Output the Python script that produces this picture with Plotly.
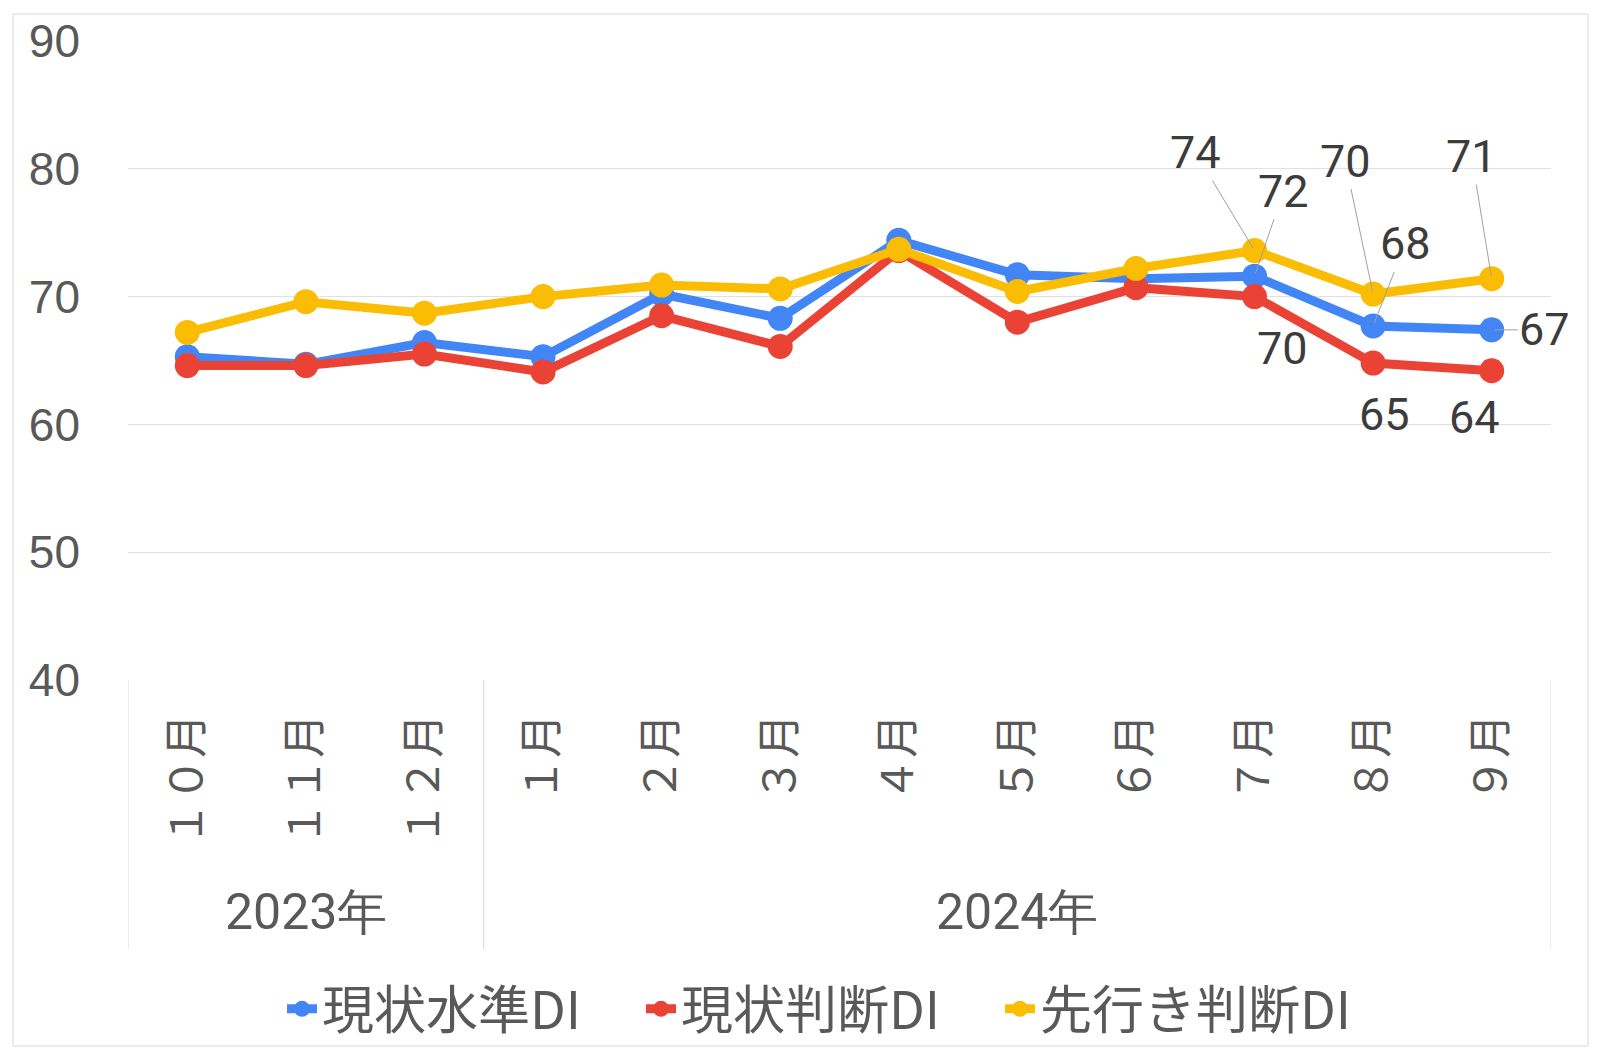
import plotly.graph_objects as go

months = ["１０月", "１１月", "１２月", "１月", "２月", "３月", "４月", "５月", "６月", "７月", "８月", "９月"]
years = ["2023年", "2024年"]
months_per_year = [3, 9]

genjo_suijun = [65.3, 64.7, 66.4, 65.3, 70.2, 68.3, 74.4, 71.7, 71.4, 71.6, 67.7, 67.4]
genjo_handan = [64.6, 64.6, 65.5, 64.1, 68.5, 66.1, 73.6, 68.0, 70.7, 70.0, 64.8, 64.2]
sakiyuki_handan = [67.2, 69.6, 68.7, 70.0, 70.9, 70.6, 73.7, 70.4, 72.2, 73.6, 70.2, 71.4]

series_names = ["現状水準DI", "現状判断DI", "先行き判断DI"]
colors = ["#4285F4", "#EA4335", "#FBBC04"]

W, H = 1600, 1052
OFF = 8  # page body margin; layout numbers below are page pixels
L, T = 128 - OFF, 41 - OFF
R = W - (1551 - OFF)
B = H - (680 - OFF)
pw, ph = W - L - R, H - T - B


def py(px):
    # page pixel y -> paper y
    return (H - B - (px - OFF)) / ph


def pxx(px):
    return (px - OFF - L) / pw


x = list(range(len(months)))
fig = go.Figure()
for name, vals, c in zip(series_names, [genjo_suijun, genjo_handan, sakiyuki_handan], colors):
    fig.add_trace(go.Scatter(
        x=x, y=vals, name=name, mode="lines+markers",
        line=dict(color=c, width=9), marker=dict(color=c, size=25),
    ))

# data labels for the last three months (offsets in px)
label_offsets = {
    0: [(29, -85), (32, -82), (53, 0)],
    1: [(28, 52), (11, 51), (-17, 47)],
    2: [(-59, -98), (-28, -133), (-20, -122)],
}
leader = {0: True, 1: False, 2: True}
all_vals = [genjo_suijun, genjo_handan, sakiyuki_handan]
for s, offs in label_offsets.items():
    for k, (dx, dy) in enumerate(offs):
        i = len(months) - 3 + k
        v = all_vals[s][i]
        common = dict(x=i, y=v, xref="x", yref="y", text=str(int(round(v))),
                      font=dict(family="Roboto", size=45, color="#3c3c3c"))
        if leader[s]:
            fig.add_annotation(**common, showarrow=True, ax=dx, ay=dy, arrowhead=0,
                               arrowwidth=1, arrowcolor="#a0a0a0", standoff=3)
        else:
            fig.add_annotation(**common, showarrow=False, xshift=dx, yshift=-dy)

# category group box below the plot
box_bottom = py(949)
start = 0
bounds = [-0.5]
for n in months_per_year:
    start += n
    bounds.append(start - 0.5)
for b in bounds:
    fig.add_shape(type="line", xref="x", yref="paper", x0=b, x1=b, y0=0, y1=box_bottom,
                  line=dict(color="#d9d9d9", width=1))
start = 0
for yr, n in zip(years, months_per_year):
    fig.add_annotation(x=start + (n - 1) / 2, xref="x", y=py(912), yref="paper", text=yr,
                       showarrow=False, yanchor="middle",
                       font=dict(family="Roboto", size=50, color="#595959"))
    start += n

# outer border
fig.add_shape(type="rect", xref="paper", yref="paper", x0=pxx(13), x1=pxx(1588),
              y0=py(1046), y1=py(14), line=dict(color="#d9d9d9", width=1))

fig.update_layout(
    width=W, height=H, margin=dict(l=L, r=R, t=T, b=B, autoexpand=False),
    plot_bgcolor="white", paper_bgcolor="white",
    showlegend=True,
    legend=dict(orientation="h", x=pxx(282), xanchor="left", y=py(1009), yanchor="middle",
                bgcolor="rgba(0,0,0,0)",
                font=dict(family="Noto Sans CJK JP", size=52, color="#595959"),
                itemwidth=30, entrywidth=314, entrywidthmode="pixels", tracegroupgap=0),
    xaxis=dict(range=[-0.5, 11.5], tickvals=x, ticktext=months, tickangle=-90,
               showgrid=False, zeroline=False, showline=False, ticks="",
               ticklabelstandoff=24, automargin=False,
               tickfont=dict(family="Noto Sans CJK JP", size=44, color="#595959")),
    yaxis=dict(range=[40, 90], dtick=10, showgrid=True, gridcolor="#e0e0e0", gridwidth=1,
               zeroline=False, showline=False, ticks="", ticklabelstandoff=47, automargin=False,
               tickfont=dict(family="Liberation Sans", size=46, color="#595959")),
)

fig.write_html("out.html")
